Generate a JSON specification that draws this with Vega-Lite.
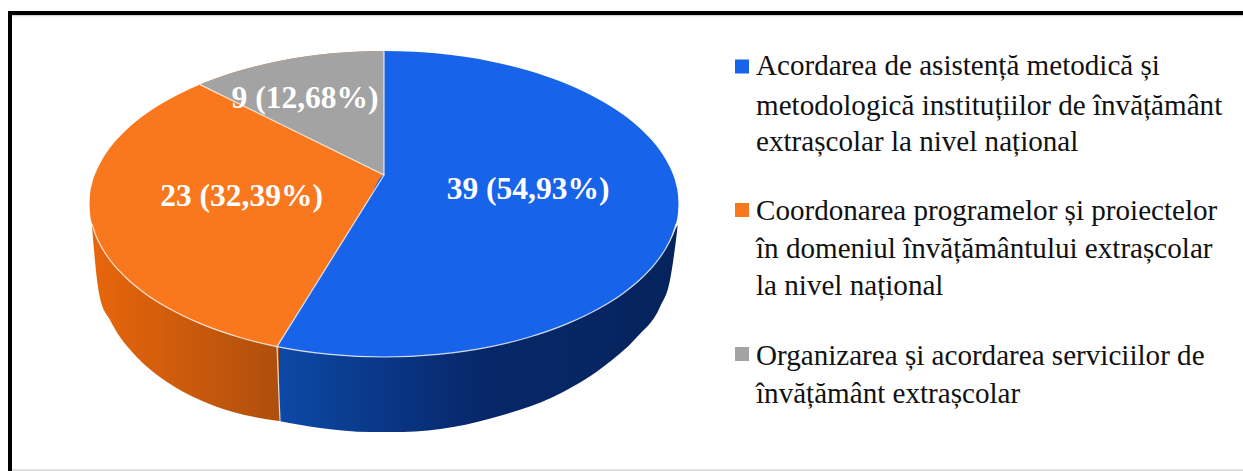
{"$schema":"https://vega.github.io/schema/vega-lite/v6.json","width":1243,"height":471,"autosize":{"type":"none"},"padding":0,"background":"white","config":{"view":{"stroke":null}},
"datasets":{
"sides":[
{"slice":"Coordonarea","x":92,"y":222,"y2":226},{"slice":"Coordonarea","x":94,"y":226,"y2":250},{"slice":"Coordonarea","x":97,"y":232,"y2":280},{"slice":"Coordonarea","x":100,"y":238,"y2":298},{"slice":"Coordonarea","x":110,"y":250,"y2":320},{"slice":"Coordonarea","x":120,"y":262,"y2":337},{"slice":"Coordonarea","x":133,"y":277,"y2":353},{"slice":"Coordonarea","x":167,"y":305,"y2":382},{"slice":"Coordonarea","x":200,"y":320,"y2":400},{"slice":"Coordonarea","x":233,"y":332,"y2":412},{"slice":"Coordonarea","x":279,"y":344,"y2":421},
{"slice":"Acordarea","x":279,"y":344,"y2":421},{"slice":"Acordarea","x":320,"y":350,"y2":428},{"slice":"Acordarea","x":370,"y":354,"y2":432},{"slice":"Acordarea","x":403,"y":354,"y2":432},{"slice":"Acordarea","x":453,"y":350,"y2":427},{"slice":"Acordarea","x":503,"y":340,"y2":415},{"slice":"Acordarea","x":553,"y":325,"y2":397},{"slice":"Acordarea","x":603,"y":300,"y2":367},{"slice":"Acordarea","x":637,"y":279,"y2":337},{"slice":"Acordarea","x":660,"y":255,"y2":307},{"slice":"Acordarea","x":670,"y":240,"y2":280},{"slice":"Acordarea","x":673,"y":235,"y2":262},{"slice":"Acordarea","x":676,"y":228,"y2":240},{"slice":"Acordarea","x":677.5,"y":225,"y2":227}],
"faces":[
{"part":"orange","x":89.5,"y":204,"y2":204},{"part":"orange","x":90,"y":195.1,"y2":212.9},{"part":"orange","x":92,"y":184.1,"y2":223.9},{"part":"orange","x":96,"y":172,"y2":236},{"part":"orange","x":102,"y":160,"y2":248},{"part":"orange","x":112,"y":145.3,"y2":262.7},{"part":"orange","x":125,"y":131.2,"y2":276.8},{"part":"orange","x":145,"y":114.6,"y2":293.4},{"part":"orange","x":170,"y":99,"y2":309},{"part":"orange","x":200,"y":84.6,"y2":323.4},{"part":"orange","x":240,"y":70.5,"y2":337.5},{"part":"orange","x":277,"y":61.4,"y2":346.6},{"part":"orange","x":330,"y":53.6,"y2":354.4},{"part":"orange","x":384,"y":51,"y2":357},
{"part":"grey","x":200,"y":84.6,"y2":84.6},{"part":"grey","x":230,"y":73.6,"y2":98.8},{"part":"grey","x":260,"y":65.2,"y2":113.7},{"part":"grey","x":290,"y":59,"y2":128.5},{"part":"grey","x":320,"y":54.6,"y2":143.3},{"part":"grey","x":350,"y":52,"y2":158.2},{"part":"grey","x":384,"y":51,"y2":175},
{"part":"blueL","x":277,"y":346.6,"y2":346.6},{"part":"blueL","x":300,"y":309,"y2":350.6},{"part":"blueL","x":320,"y":277.3,"y2":353.4},{"part":"blueL","x":345,"y":237.4,"y2":355.7},{"part":"blueL","x":370,"y":197.4,"y2":356.8},{"part":"blueL","x":384,"y":175,"y2":357},{"part":"blueL","x":386,"y":175,"y2":357},
{"part":"blueR","x":384,"y":51,"y2":357},{"part":"blueR","x":414,"y":51.8,"y2":356.2},{"part":"blueR","x":438,"y":53.6,"y2":354.4},{"part":"blueR","x":491,"y":61.4,"y2":346.6},{"part":"blueR","x":528,"y":70.5,"y2":337.5},{"part":"blueR","x":568,"y":84.6,"y2":323.4},{"part":"blueR","x":598,"y":99,"y2":309},{"part":"blueR","x":623,"y":114.6,"y2":293.4},{"part":"blueR","x":643,"y":131.2,"y2":276.8},{"part":"blueR","x":656,"y":145.3,"y2":262.7},{"part":"blueR","x":666,"y":160,"y2":248},{"part":"blueR","x":672,"y":172,"y2":236},{"part":"blueR","x":676,"y":184.1,"y2":223.9},{"part":"blueR","x":678,"y":195.1,"y2":212.9},{"part":"blueR","x":678.5,"y":204,"y2":204}],
"rim":[{"x":92,"y":223.9},{"x":96,"y":236},{"x":102,"y":248},{"x":112,"y":262.7},{"x":125,"y":276.8},{"x":145,"y":293.4},{"x":170,"y":309},{"x":200,"y":323.4},{"x":240,"y":337.5},{"x":277,"y":346.6},{"x":330,"y":354.4},{"x":384,"y":357},{"x":438,"y":354.4},{"x":491,"y":346.6},{"x":528,"y":337.5},{"x":568,"y":323.4},{"x":598,"y":309},{"x":623,"y":293.4},{"x":643,"y":276.8},{"x":656,"y":262.7},{"x":666,"y":248},{"x":672,"y":236},{"x":676,"y":223.9}],
"edges":[{"edge":"a","seq":1,"x":200,"y":84.6},{"edge":"a","seq":2,"x":384,"y":175},{"edge":"a","seq":3,"x":277,"y":346.6},{"edge":"b","seq":1,"x":384,"y":51},{"edge":"b","seq":2,"x":384,"y":175},{"edge":"c","seq":1,"x":277,"y":346.6},{"edge":"c","seq":2,"x":280,"y":421}],
"labels":[{"label":"39 (54,93%)","value":39,"x":528,"y":199},{"label":"23 (32,39%)","value":23,"x":241.5,"y":206},{"label":"9 (12,68%)","value":9,"x":305,"y":108}],
"keys":[{"category":"Acordarea","x":742,"y":66.5},{"category":"Coordonarea","x":742,"y":210},{"category":"Organizarea","x":742,"y":354}],
"legend":[{"line":"Acordarea de asistență metodică și","x":756,"y":75},{"line":"metodologică instituțiilor de învățământ","x":756,"y":115},{"line":"extrașcolar la nivel național","x":756,"y":151},{"line":"Coordonarea programelor și proiectelor","x":756,"y":220},{"line":"în domeniul învățământului extrașcolar","x":756,"y":258},{"line":"la nivel național","x":756,"y":295},{"line":"Organizarea și acordarea serviciilor de","x":756,"y":365},{"line":"învățământ extrașcolar","x":756,"y":403}],
"frame":[{"x":8,"x2":1243,"y":13,"y2":13},{"x":10,"x2":10,"y":11,"y2":471}],
"frameLight":[{"x":12,"x2":1243,"y":470,"y2":470},{"x":12,"x2":1243,"y":15.5,"y2":15.5}]
},
"encoding":{"x":{"field":"x","type":"quantitative","scale":{"domain":[0,1243],"nice":false,"zero":false},"axis":null},"y":{"field":"y","type":"quantitative","scale":{"domain":[471,0],"nice":false,"zero":false},"axis":null,"stack":null}},
"layer":[
{"data":{"name":"sides"},"transform":[{"filter":"datum.slice==='Coordonarea'"}],"mark":{"type":"area","interpolate":"monotone","fill":{"gradient":"linear","x1":0,"y1":0,"x2":1,"y2":0,"stops":[{"offset":0,"color":"#E8660C"},{"offset":1,"color":"#AE4F0C"}]}},"encoding":{"y2":{"field":"y2"}}},
{"data":{"name":"sides"},"transform":[{"filter":"datum.slice==='Acordarea'"}],"mark":{"type":"area","interpolate":"monotone","fill":{"gradient":"linear","x1":0,"y1":0,"x2":1,"y2":0,"stops":[{"offset":0,"color":"#0D49A6"},{"offset":0.5,"color":"#07276A"},{"offset":1,"color":"#05245C"}]}},"encoding":{"y2":{"field":"y2"}}},
{"data":{"name":"faces"},"transform":[{"filter":"datum.part==='orange'"}],"mark":{"type":"area","interpolate":"monotone","fill":"#F9781E"},"encoding":{"y2":{"field":"y2"}}},
{"data":{"name":"faces"},"transform":[{"filter":"datum.part==='grey'"}],"mark":{"type":"area","interpolate":"monotone","fill":"#A3A3A3"},"encoding":{"y2":{"field":"y2"}}},
{"data":{"name":"faces"},"transform":[{"filter":"datum.part==='blueL'"}],"mark":{"type":"area","interpolate":"monotone","fill":"#1763E9"},"encoding":{"y2":{"field":"y2"}}},
{"data":{"name":"faces"},"transform":[{"filter":"datum.part==='blueR'"}],"mark":{"type":"area","interpolate":"monotone","fill":"#1763E9"},"encoding":{"y2":{"field":"y2"}}},
{"data":{"name":"rim"},"mark":{"type":"line","interpolate":"monotone","color":"#FFFFFF","strokeWidth":1.2,"opacity":0.8}},
{"data":{"name":"edges"},"mark":{"type":"line","color":"#FFFFFF","strokeWidth":1.2,"opacity":0.8},"encoding":{"detail":{"field":"edge"},"order":{"field":"seq"}}},
{"data":{"name":"labels"},"mark":{"type":"text","font":"Liberation Serif","fontWeight":"bold","fontSize":31.5,"color":"#FFFFFF","align":"center","baseline":"alphabetic"},"encoding":{"text":{"field":"label"}}},
{"data":{"name":"keys"},"mark":{"type":"point","shape":"square","filled":true,"size":196,"opacity":1},"encoding":{"color":{"field":"category","type":"nominal","legend":null,"scale":{"domain":["Acordarea","Coordonarea","Organizarea"],"range":["#1763E9","#F9781E","#A3A3A3"]}}}},
{"data":{"name":"legend"},"mark":{"type":"text","font":"Liberation Serif","fontSize":29.1,"color":"#111111","align":"left","baseline":"alphabetic"},"encoding":{"text":{"field":"line"}}},
{"data":{"name":"frameLight"},"mark":{"type":"rule","color":"#D4D4D4","strokeWidth":1.5},"encoding":{"x2":{"field":"x2"},"y2":{"field":"y2"}}},
{"data":{"name":"frame"},"mark":{"type":"rule","color":"#000000","strokeWidth":4},"encoding":{"x2":{"field":"x2"},"y2":{"field":"y2"}}}
]}
